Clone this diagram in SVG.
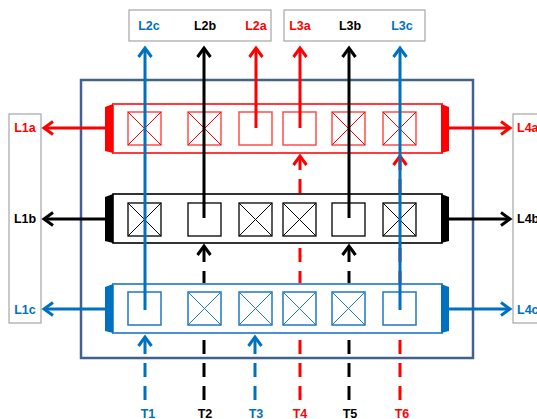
<svg xmlns="http://www.w3.org/2000/svg" width="537" height="419" viewBox="0 0 537 419">
<style>
text{font-family:"Liberation Sans",Arial,sans-serif;font-weight:bold;font-size:12.5px;text-anchor:middle}
.r{fill:#FF0000}.k{fill:#000}.b{fill:#0070C0}
.lbl{fill:#fff;stroke:#A6A6A6;stroke-width:1.2}
.row-r{fill:#fff;stroke:#FF3B3B;stroke-width:2}
.row-k{fill:#fff;stroke:#000;stroke-width:1.6}
.row-b{fill:#fff;stroke:#4A90D0;stroke-width:2}
.sq-r{fill:#fff;stroke:#FF4D4D;stroke-width:1.5}
.sq-k{fill:#fff;stroke:#000;stroke-width:1.3}
.sq-b{fill:#fff;stroke:#1F78C4;stroke-width:1.5}
.x-r{stroke:#FF0000;stroke-width:1}
.x-k{stroke:#000;stroke-width:1}
.x-b{stroke:#1F78C4;stroke-width:1}
.cr{stroke:#FF0000;stroke-width:3;fill:none}
.ck{stroke:#000;stroke-width:3;fill:none}
.cb{stroke:#0070C0;stroke-width:3;fill:none}
.dash{stroke-dasharray:14 9}
</style>
<defs>
<marker id="ar" markerUnits="userSpaceOnUse" markerWidth="16" markerHeight="16" viewBox="0 0 16 16" refX="13" refY="8" orient="auto"><path d="M4,1.5 L13,8 L4,14.5" fill="none" stroke="#FF0000" stroke-width="3"/></marker>
<marker id="ak" markerUnits="userSpaceOnUse" markerWidth="16" markerHeight="16" viewBox="0 0 16 16" refX="13" refY="8" orient="auto"><path d="M4,1.5 L13,8 L4,14.5" fill="none" stroke="#000" stroke-width="3"/></marker>
<marker id="ab" markerUnits="userSpaceOnUse" markerWidth="16" markerHeight="16" viewBox="0 0 16 16" refX="13" refY="8" orient="auto"><path d="M4,1.5 L13,8 L4,14.5" fill="none" stroke="#0070C0" stroke-width="3"/></marker>
<g id="sqx-r"><rect class="sq-r" x="0" y="0" width="33" height="33"/><path class="x-r" d="M0,0 L33,33 M33,0 L0,33"/></g>
<g id="sqx-k"><rect class="sq-k" x="0" y="0" width="33" height="33"/><path class="x-k" d="M0,0 L33,33 M33,0 L0,33"/></g>
<g id="sqx-b"><rect class="sq-b" x="0" y="0" width="33" height="33"/><path class="x-b" d="M0,0 L33,33 M33,0 L0,33"/></g>
</defs>

<rect id="frame" x="81" y="80" width="392" height="278" fill="none" stroke="#41628F" stroke-width="2.5"/>

<g id="top-left-labels">
<rect class="lbl" x="129" y="10" width="142" height="31"/>
<text class="b" x="149" y="30">L2c</text>
<text class="k" x="205" y="30">L2b</text>
<text class="r" x="256" y="30">L2a</text>
</g>
<g id="top-right-labels">
<rect class="lbl" x="284" y="10" width="141" height="31"/>
<text class="r" x="300" y="30">L3a</text>
<text class="k" x="350" y="30">L3b</text>
<text class="b" x="402" y="30">L3c</text>
</g>
<g id="left-labels">
<rect class="lbl" x="9" y="114" width="32" height="209"/>
<text class="r" x="25" y="132">L1a</text>
<text class="k" x="25" y="223">L1b</text>
<text class="b" x="25" y="314">L1c</text>
</g>
<g id="right-labels">
<rect class="lbl" x="513" y="114" width="40" height="209"/>
<text class="r" x="517" y="132" style="text-anchor:start">L4a</text>
<text class="k" x="517" y="223" style="text-anchor:start">L4b</text>
<text class="b" x="517" y="314" style="text-anchor:start">L4c</text>
</g>

<g id="connectors-under">
<line class="cb dash" x1="145" y1="400" x2="145" y2="337" marker-end="url(#ab)"/>
<line class="ck dash" x1="204" y1="400" x2="204" y2="246" marker-end="url(#ak)"/>
<line class="cb dash" x1="255" y1="400" x2="255" y2="337" marker-end="url(#ab)"/>
<line class="cr dash" x1="300" y1="400" x2="300" y2="156" marker-end="url(#ar)"/>
<line class="ck dash" x1="349" y1="400" x2="349" y2="246" marker-end="url(#ak)"/>
<line class="cr dash" x1="400" y1="400" x2="400" y2="156" marker-end="url(#ar)"/>
<line class="cr" x1="106" y1="128" x2="44" y2="128" marker-end="url(#ar)"/>
<line class="ck" x1="106" y1="219" x2="44" y2="219" marker-end="url(#ak)"/>
<line class="cb" x1="106" y1="309" x2="44" y2="309" marker-end="url(#ab)"/>
<line class="cr" x1="448" y1="128" x2="510" y2="128" marker-end="url(#ar)"/>
<line class="ck" x1="448" y1="219" x2="510" y2="219" marker-end="url(#ak)"/>
<line class="cb" x1="448" y1="309" x2="510" y2="309" marker-end="url(#ab)"/>
</g>

<g id="row-a">
<rect class="row-r" x="113" y="104" width="329" height="49"/>
<polygon fill="#FF0000" points="105,107 113,104 113,153 105,151"/>
<polygon fill="#FF0000" points="441,104 449,107 449,151 441,153"/>
<use href="#sqx-r" x="128" y="112"/>
<use href="#sqx-r" x="188" y="112"/>
<rect class="sq-r" x="239" y="112" width="33" height="33"/>
<rect class="sq-r" x="283" y="112" width="33" height="33"/>
<use href="#sqx-r" x="332" y="112"/>
<use href="#sqx-r" x="383" y="112"/>
</g>
<g id="row-b">
<rect class="row-k" x="113" y="194" width="329" height="49"/>
<polygon fill="#000" points="105,197 113,194 113,243 105,241"/>
<polygon fill="#000" points="441,194 449,197 449,241 441,243"/>
<use href="#sqx-k" x="128" y="203"/>
<rect class="sq-k" x="188" y="203" width="33" height="33"/>
<use href="#sqx-k" x="239" y="203"/>
<use href="#sqx-k" x="283" y="203"/>
<rect class="sq-k" x="332" y="203" width="33" height="33"/>
<use href="#sqx-k" x="383" y="203"/>
</g>
<g id="row-c">
<rect class="row-b" x="113" y="284" width="329" height="49"/>
<polygon fill="#0070C0" points="105,287 113,284 113,333 105,331"/>
<polygon fill="#0070C0" points="441,284 449,287 449,331 441,333"/>
<rect class="sq-b" x="128" y="292" width="33" height="33"/>
<use href="#sqx-b" x="188" y="292"/>
<use href="#sqx-b" x="239" y="292"/>
<use href="#sqx-b" x="283" y="292"/>
<use href="#sqx-b" x="332" y="292"/>
<rect class="sq-b" x="383" y="292" width="33" height="33"/>
</g>

<g id="connectors">
<line class="cr" x1="256" y1="128" x2="256" y2="48" marker-end="url(#ar)"/>
<line class="cr" x1="300" y1="128" x2="300" y2="48" marker-end="url(#ar)"/>
<line class="ck" x1="204" y1="218" x2="204" y2="48" marker-end="url(#ak)"/>
<line class="ck" x1="349" y1="218" x2="349" y2="48" marker-end="url(#ak)"/>
<line class="cb" x1="145" y1="310" x2="145" y2="48" marker-end="url(#ab)"/>
<line class="cb" x1="400" y1="310" x2="400" y2="48" marker-end="url(#ab)"/>
</g>

<g id="bottom-labels">
<text class="b" x="148" y="418">T1</text>
<text class="k" x="205" y="418">T2</text>
<text class="b" x="256" y="418">T3</text>
<text class="r" x="300" y="418">T4</text>
<text class="k" x="350" y="418">T5</text>
<text class="r" x="402" y="418">T6</text>
</g>
</svg>
